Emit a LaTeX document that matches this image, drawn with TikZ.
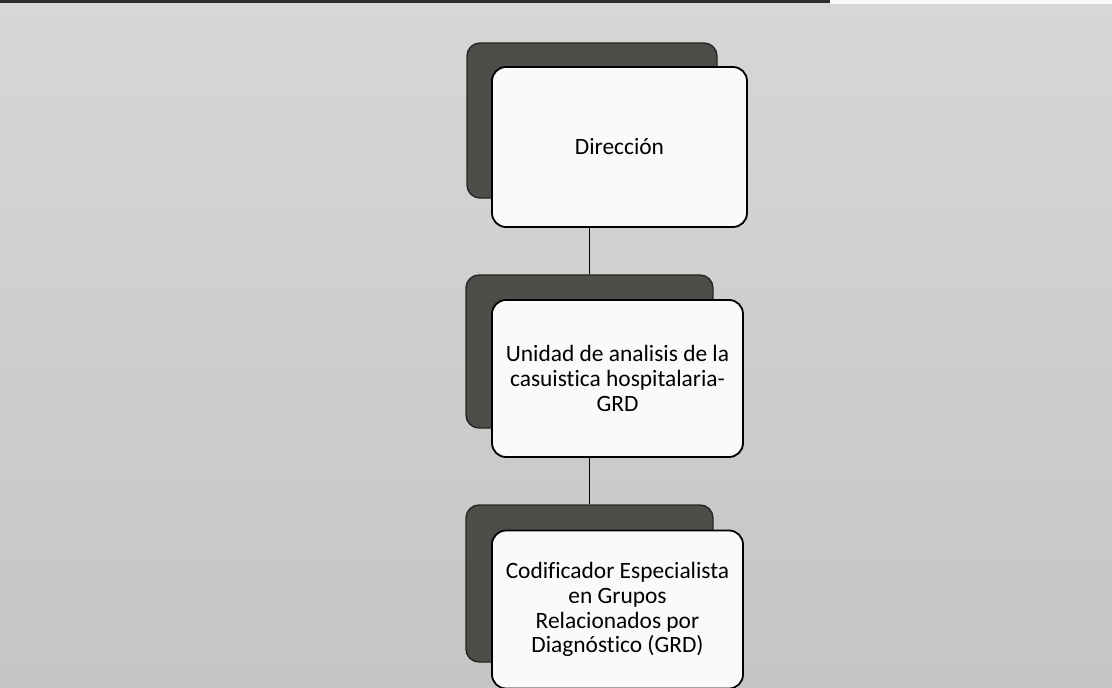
\documentclass[tikz,border=0pt]{standalone}
\usepackage{fontspec}
\setmainfont[Ligatures=NoCommon]{Carlito}
\definecolor{bgtop}{RGB}{216,215,214}
\definecolor{bgbot}{RGB}{198,197,196}
\definecolor{shadowfill}{RGB}{76,78,74}
\definecolor{boxfill}{RGB}{250,250,249}
\definecolor{scanedge}{RGB}{45,45,45}
\tikzset{
  frontbox/.style={draw=black, line width=1.8bp, fill=boxfill, rounded corners=14bp,
    inner sep=0pt, align=center, font=\fontsize{23.5}{25}\selectfont, text=black},
  shadowbox/.style={draw=black!85, line width=1.4bp, fill=shadowfill, rounded corners=13bp,
    inner sep=0pt},
  link/.style={draw=black, line width=1.7bp}
}
\begin{document}
\begin{tikzpicture}[x=1bp,y=-1bp]
\useasboundingbox (0,0) rectangle (1112,688);
\shade[top color=bgtop, bottom color=bgbot] (0,0) rectangle (1112,688);
\fill[scanedge] (0,0) rectangle (830,3.5);
\fill[white!96!gray] (830,0) rectangle (1112,4);
% shadows
\node[shadowbox, minimum width=250bp, minimum height=155bp] (s1) at (592,120.5) {};
\node[shadowbox, minimum width=247bp, minimum height=153bp] (s2) at (589.5,351.5) {};
\node[shadowbox, minimum width=247bp, minimum height=157bp] (s3) at (589.5,583.5) {};
% connectors
\draw[link] (s2.north) -- (s2.north |- s1.south);
\draw[link] (s3.north) -- (s3.north |- s2.south);
% front boxes
\node[frontbox, minimum width=255bp, minimum height=160bp] (f1) at (619.5,147) {Dirección};
\node[frontbox, minimum width=251bp, minimum height=157bp] (f2) at (617.5,378.5)
  {Unidad de analisis de la\\casuistica hospitalaria-\\GRD};
\node[frontbox, minimum width=251bp, minimum height=158bp] (f3) at (617.5,609.5)
  {Codificador Especialista\\en Grupos\\Relacionados por\\Diagnóstico (GRD)};
\end{tikzpicture}
\end{document}
